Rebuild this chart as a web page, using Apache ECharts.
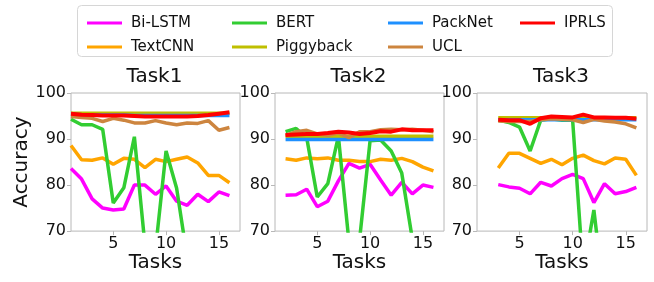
<!DOCTYPE html>
<html>
<head>
<meta charset="utf-8">
<script src="https://cdn.jsdelivr.net/npm/echarts@6/dist/echarts.min.js"></script>
<style>
  html, body { margin: 0; padding: 0; background: #fff; }
  #chart { width: 654px; height: 282px; }
</style>
</head>
<body>
<div id="chart"></div>
<script>
// task indices per panel
const tasks1 = [1, 2, 3, 4, 5, 6, 7, 8, 9, 10, 11, 12, 13, 14, 15, 16];
const tasks2 = [2, 3, 4, 5, 6, 7, 8, 9, 10, 11, 12, 13, 14, 15, 16];
const tasks3 = [3, 4, 5, 6, 7, 8, 9, 10, 11, 12, 13, 14, 15, 16];

const panelTitles = ['Task1', 'Task2', 'Task3'];
const methods = ['Bi-LSTM', 'TextCNN', 'BERT', 'Piggyback', 'PackNet', 'UCL', 'IPRLS'];
const colors = ['#ff00ff', '#ffa500', '#32cd32', '#bfbf00', '#1e90ff', '#cd853f', '#ff0000'];
const xTicks = [5, 10, 15];

// Task1
const biLstm1 = [83.6, 81.3, 77.0, 75.0, 74.6, 74.8, 80.0, 80.0, 78.0, 79.8, 76.5, 75.6, 78.0, 76.4, 78.5, 77.7];
const textCnn1 = [88.6, 85.5, 85.4, 85.9, 84.5, 85.8, 85.6, 83.8, 85.6, 85.1, 85.6, 86.1, 84.8, 82.1, 82.1, 80.5];
const bert1 = [94.3, 93.1, 93.1, 92.1, 76.1, 79.4, 90.5, 67.0, 66.0, 87.4, 79.3, 64.3, 60.0, 58.0, 58.0, 56.0];
const piggy1 = [95.6, 95.6, 95.6, 95.6, 95.6, 95.6, 95.6, 95.6, 95.6, 95.6, 95.6, 95.6, 95.6, 95.6, 95.6, 95.6];
const packnet1 = [95.4, 95.3, 95.3, 95.2, 95.2, 95.2, 95.1, 95.1, 95.1, 95.1, 95.1, 95.1, 95.1, 95.1, 95.1, 95.1];
const ucl1 = [94.9, 94.7, 94.5, 93.8, 94.5, 94.1, 93.5, 93.5, 94.0, 93.5, 93.1, 93.5, 93.4, 94.0, 91.9, 92.5];
const iprls1 = [95.5, 95.3, 95.2, 95.1, 95.1, 95.1, 95.0, 94.9, 94.9, 94.9, 94.9, 94.9, 95.0, 95.2, 95.5, 95.8];

// Task2
const biLstm2 = [77.8, 77.9, 79.1, 75.3, 76.5, 80.9, 84.7, 83.7, 84.5, 81.1, 77.8, 80.6, 78.1, 80.0, 79.5];
const textCnn2 = [85.7, 85.4, 85.9, 85.7, 85.9, 85.4, 85.4, 85.1, 85.1, 85.6, 85.4, 85.8, 85.1, 83.9, 83.1];
const bert2 = [91.6, 92.3, 90.3, 77.4, 80.3, 90.6, 67.7, 68.0, 89.6, 89.8, 87.4, 82.6, 68.3, 60.0, 58.0];
const piggy2 = [90.6, 90.6, 90.6, 90.6, 90.6, 90.6, 90.6, 90.6, 90.6, 90.6, 90.6, 90.6, 90.6, 90.6, 90.6];
const packnet2 = [89.9, 89.9, 89.9, 89.9, 89.9, 89.9, 89.9, 89.9, 89.9, 89.9, 89.9, 89.9, 89.9, 89.9, 89.9];
const ucl2 = [90.8, 91.6, 91.9, 91.1, 90.8, 91.3, 90.3, 91.6, 91.6, 92.0, 92.1, 92.0, 92.1, 91.9, 91.6];
const iprls2 = [90.9, 91.0, 91.1, 91.1, 91.3, 91.6, 91.4, 91.1, 91.3, 91.7, 91.6, 92.1, 91.9, 91.9, 91.9];

// Task3
const biLstm3 = [80.1, 79.6, 79.3, 78.1, 80.6, 79.8, 81.4, 82.3, 81.4, 76.2, 80.3, 78.1, 78.6, 79.5];
const textCnn3 = [83.7, 86.9, 86.9, 85.8, 84.7, 85.6, 84.4, 85.8, 86.5, 85.3, 84.6, 85.9, 85.6, 82.1];
const bert3 = [94.1, 93.6, 92.6, 87.4, 94.1, 94.4, 94.1, 94.1, 61.0, 74.6, 55.0, 52.0, 50.0, 50.0];
const piggy3 = [94.6, 94.6, 94.6, 94.6, 94.6, 94.6, 94.6, 94.6, 94.6, 94.6, 94.6, 94.6, 94.6, 94.6];
const packnet3 = [94.2, 94.2, 94.2, 94.2, 94.2, 94.2, 94.2, 94.2, 94.2, 94.2, 94.2, 94.2, 94.2, 94.2];
const ucl3 = [93.9, 93.8, 93.8, 93.8, 94.2, 94.4, 94.3, 94.2, 93.6, 94.3, 93.9, 93.7, 93.3, 92.4];
const iprls3 = [94.2, 94.1, 94.1, 93.3, 94.5, 94.9, 94.8, 94.7, 95.3, 94.7, 94.7, 94.6, 94.6, 94.4];

const panels = [
  { tasks: tasks1, values: [biLstm1, textCnn1, bert1, piggy1, packnet1, ucl1, iprls1] },
  { tasks: tasks2, values: [biLstm2, textCnn2, bert2, piggy2, packnet2, ucl2, iprls2] },
  { tasks: tasks3, values: [biLstm3, textCnn3, bert3, piggy3, packnet3, ucl3, iprls3] }
];

const gridLefts = [71, 275, 477];
const gridWidths = [169, 169, 170];
const font = 'DejaVu Sans';

const chart = echarts.init(document.getElementById('chart'));

const grids = gridLefts.map((l, i) => ({
  left: l, top: 93, width: gridWidths[i], height: 150,
  show: true, borderColor: '#b8b8b8', borderWidth: 1
}));

const xAxes = gridLefts.map((l, i) => ({
  type: 'value', gridIndex: i, min: 1, max: 17,
  name: 'Tasks', nameLocation: 'middle', nameGap: 18,
  nameTextStyle: { fontFamily: font, fontSize: 20, color: '#111' },
  axisLine: { show: false },
  axisTick: { show: true, length: 4, lineStyle: { color: '#b8b8b8' }, customValues: xTicks },
  axisLabel: { fontFamily: font, fontSize: 16, color: '#111', margin: 5, customValues: xTicks },
  splitLine: { show: false }
}));

const yAxes = gridLefts.map((l, i) => ({
  type: 'value', gridIndex: i, min: 70, max: 100, interval: 10,
  name: i === 0 ? 'Accuracy' : '', nameLocation: 'middle', nameGap: 38,
  nameTextStyle: { fontFamily: font, fontSize: 20, color: '#111' },
  axisLine: { show: false },
  axisTick: { show: true, length: 4, lineStyle: { color: '#b8b8b8' } },
  axisLabel: { fontFamily: font, fontSize: 16, color: '#111', margin: 5 },
  splitLine: { show: false }
}));

const series = [];
panels.forEach((p, i) => {
  methods.forEach((m, k) => {
    series.push({
      name: m, type: 'line', xAxisIndex: i, yAxisIndex: i,
      data: p.tasks.map((t, j) => [t, p.values[k][j]]),
      symbol: 'none', clip: true, silent: true,
      lineStyle: { color: colors[k], width: k === 6 ? 4 : 3.5 },
      itemStyle: { color: colors[k] },
      z: 2 + k
    });
  });
});

const legendCols = [['Bi-LSTM', 'TextCNN'], ['BERT', 'Piggyback'], ['PackNet', 'UCL'], ['IPRLS']];
const legendLefts = [82, 227, 383, 515];
const legends = legendCols.map((names, i) => ({
  data: names, orient: 'vertical', left: legendLefts[i], top: 9,
  icon: 'rect', itemWidth: 35, itemHeight: 3, itemGap: 6,
  selectedMode: false,
  textStyle: { fontFamily: font, fontSize: 15, color: '#111', lineHeight: 18, padding: [0, 0, 0, 4] }
}));

const graphics = [
  { type: 'rect', shape: { x: 77.5, y: 5.5, width: 535, height: 51, r: 4 },
    style: { fill: '#fff', stroke: '#d6d6d6', lineWidth: 1 }, z: -1 }
];
panelTitles.forEach((t, i) => {
  graphics.push({
    type: 'text', left: gridLefts[i] + gridWidths[i] / 2 - 29, top: 67,
    style: { text: t, fontFamily: font, fontSize: 20, fill: '#111' }
  });
});

chart.setOption({
  animation: false,
  legend: legends,
  grid: grids,
  xAxis: xAxes,
  yAxis: yAxes,
  series: series,
  graphic: graphics
});
</script>
</body>
</html>
